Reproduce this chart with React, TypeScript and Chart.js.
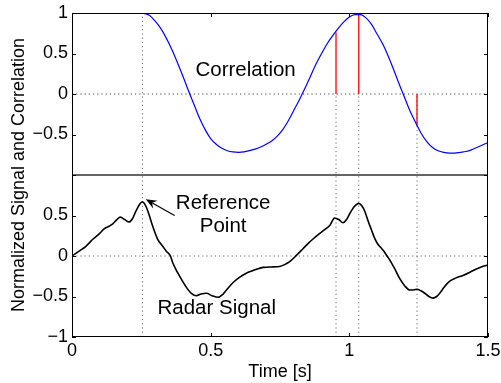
import React, { useEffect, useRef } from "react";
import { Chart, registerables } from "chart.js";

Chart.register(...registerables);

// ---- Data ----
const corrTime = [
  0.254, 0.28, 0.3, 0.32, 0.34, 0.36, 0.38, 0.4, 0.42, 0.44, 0.46, 0.48, 0.5, 0.52, 0.54, 0.56, 0.58, 0.6,
  0.62, 0.64, 0.66, 0.68, 0.7, 0.72, 0.74, 0.76, 0.78, 0.8, 0.82, 0.84, 0.86, 0.88, 0.9, 0.92, 0.94, 0.96,
  0.98, 1.0, 1.02, 1.04, 1.06, 1.08, 1.1, 1.12, 1.14, 1.16, 1.18, 1.2, 1.22, 1.24, 1.26, 1.28, 1.3, 1.32,
  1.34, 1.36, 1.38, 1.4, 1.42, 1.44, 1.46, 1.48, 1.5,
];
const corrValue = [
  1.0, 0.97, 0.9, 0.81, 0.69, 0.55, 0.39, 0.22, 0.04, -0.13, -0.3, -0.44, -0.55, -0.62, -0.67, -0.7, -0.715, -0.72,
  -0.715, -0.7, -0.68, -0.655, -0.62, -0.58, -0.52, -0.44, -0.33, -0.2, -0.07, 0.07, 0.22, 0.37, 0.5, 0.62, 0.72, 0.81,
  0.89, 0.95, 0.98, 0.98, 0.94, 0.86, 0.74, 0.62, 0.47, 0.3, 0.12, -0.05, -0.22, -0.36, -0.49, -0.59, -0.66, -0.7,
  -0.72, -0.73, -0.73, -0.72, -0.71, -0.69, -0.66, -0.63, -0.6,
];

const sigTime = [
  0.0, 0.03, 0.05, 0.076, 0.1, 0.118, 0.135, 0.148, 0.162, 0.174, 0.19, 0.206, 0.218, 0.23, 0.244, 0.254,
  0.264, 0.274, 0.286, 0.298, 0.31, 0.325, 0.34, 0.355, 0.364, 0.38, 0.4, 0.415, 0.43, 0.449, 0.465, 0.485,
  0.505, 0.527, 0.545, 0.557, 0.58, 0.605, 0.63, 0.653, 0.689, 0.72, 0.749, 0.77, 0.785, 0.81, 0.833, 0.85,
  0.869, 0.89, 0.905, 0.917, 0.93, 0.947, 0.962, 0.977, 0.99, 1.001, 1.018, 1.034, 1.045, 1.056, 1.068, 1.08,
  1.09, 1.1, 1.112, 1.122, 1.134, 1.146, 1.164, 1.182, 1.2, 1.218, 1.232, 1.244, 1.258, 1.272, 1.287, 1.302,
  1.315, 1.326, 1.343, 1.362, 1.385, 1.41, 1.435, 1.458, 1.48, 1.5,
];
const sigValue = [
  0.0, 0.07, 0.12, 0.21, 0.28, 0.34, 0.37, 0.4, 0.45, 0.48, 0.45, 0.42, 0.46, 0.55, 0.64, 0.67,
  0.63, 0.55, 0.42, 0.3, 0.2, 0.13, 0.06, 0.0, -0.09, -0.2, -0.32, -0.4, -0.46, -0.49, -0.47, -0.46,
  -0.49, -0.51, -0.47, -0.42, -0.33, -0.26, -0.21, -0.18, -0.14, -0.135, -0.13, -0.1, -0.07, 0.01, 0.09, 0.15,
  0.21, 0.27, 0.31, 0.34, 0.38, 0.47, 0.45, 0.41, 0.45, 0.52, 0.61, 0.65, 0.62, 0.55, 0.43, 0.32,
  0.23, 0.16, 0.11, 0.07, 0.01, -0.05, -0.16, -0.28, -0.37, -0.42, -0.42, -0.41, -0.43, -0.46, -0.5, -0.52,
  -0.5, -0.46, -0.38, -0.31, -0.27, -0.24, -0.2, -0.16, -0.13, -0.11,
];

const stemTime = [0.952, 1.034, 1.244];
const stemValue = [0.76, 0.975, -0.39];
const refTime = 0.254;

const xTickValues = [0, 0.5, 1, 1.5];
const xTickLabels = ["0", "0.5", "1", "1.5"];
const yTickValues = [-1, -0.5, 0, 0.5, 1, 1.5, 2, 2.5, 3];
const yTickLabels = ["\u22121", "\u22120.5", "0", "0.5", "", "\u22120.5", "0", "0.5", "1"];

const CORR_OFFSET = 2; // correlation panel sits above the signal panel on a shared axis
const FONT = "'Liberation Sans', Arial, Helvetica, sans-serif";

const overlayPlugin = {
  id: "overlay",
  afterDraw(chart: any) {
    const { ctx, chartArea, scales } = chart;
    const xs = scales.x;
    const ys = scales.y;
    const left = Math.round(chartArea.left);
    const right = Math.round(chartArea.right);
    const top = Math.round(chartArea.top);
    const bottom = Math.round(chartArea.bottom);
    ctx.save();

    // separator between panels
    const sepY = Math.round(ys.getPixelForValue(1));
    ctx.strokeStyle = "#666";
    ctx.lineWidth = 2;
    ctx.beginPath();
    ctx.moveTo(left, sepY);
    ctx.lineTo(right, sepY);
    ctx.stroke();

    // axes box
    ctx.strokeStyle = "#000";
    ctx.lineWidth = 1;
    ctx.strokeRect(left + 0.5, top + 0.5, right - left - 1, bottom - top - 1);

    // inward ticks
    const tl = 4;
    ctx.beginPath();
    yTickValues.forEach((v) => {
      const py = Math.round(ys.getPixelForValue(v)) + 0.5;
      ctx.moveTo(left, py);
      ctx.lineTo(left + tl, py);
      ctx.moveTo(right, py);
      ctx.lineTo(right - tl, py);
    });
    xTickValues.forEach((v) => {
      const px = Math.round(xs.getPixelForValue(v)) + 0.5;
      ctx.moveTo(px, bottom);
      ctx.lineTo(px, bottom - tl);
      ctx.moveTo(px, top);
      ctx.lineTo(px, top + tl);
    });
    ctx.stroke();

    // annotations
    ctx.fillStyle = "#000";
    ctx.font = `20.5px ${FONT}`;
    ctx.textAlign = "center";
    ctx.textBaseline = "middle";
    const txt = (s: string, x: number, y: number) =>
      ctx.fillText(s, xs.getPixelForValue(x), ys.getPixelForValue(y));
    txt("Correlation", 0.626, 2.29);
    txt("Reference", 0.545, 0.65);
    txt("Point", 0.545, 0.365);
    txt("Radar Signal", 0.522, -0.646);

    // arrow
    const tx = xs.getPixelForValue(0.37);
    const ty = ys.getPixelForValue(0.5);
    const hx = xs.getPixelForValue(0.266);
    const hy = ys.getPixelForValue(0.7);
    const ang = Math.atan2(hy - ty, hx - tx);
    ctx.lineWidth = 1.2;
    ctx.beginPath();
    ctx.moveTo(tx, ty);
    ctx.lineTo(hx - 6 * Math.cos(ang), hy - 6 * Math.sin(ang));
    ctx.stroke();
    const L = 11;
    const W = 4.5;
    ctx.beginPath();
    ctx.moveTo(hx, hy);
    ctx.lineTo(hx - L * Math.cos(ang) + W * Math.sin(ang), hy - L * Math.sin(ang) - W * Math.cos(ang));
    ctx.lineTo(hx - 0.65 * L * Math.cos(ang), hy - 0.65 * L * Math.sin(ang));
    ctx.lineTo(hx - L * Math.cos(ang) - W * Math.sin(ang), hy - L * Math.sin(ang) + W * Math.cos(ang));
    ctx.closePath();
    ctx.fill();

    ctx.restore();
  },
};

export default function App() {
  const ref = useRef<HTMLCanvasElement | null>(null);

  useEffect(() => {
    if (!ref.current) return;
    const dotted = {
      borderColor: "#6a6a6a",
      borderWidth: 1,
      borderDash: [1.2, 3],
      pointRadius: 0,
      tension: 0,
      order: 5,
    };
    const datasets: any[] = [];
    // horizontal zero lines
    datasets.push({ ...dotted, data: [{ x: 0, y: CORR_OFFSET }, { x: 1.5, y: CORR_OFFSET }], borderColor: "#444" });
    datasets.push({ ...dotted, data: [{ x: 0, y: 0 }, { x: 1.5, y: 0 }] });
    // vertical dotted lines
    datasets.push({ ...dotted, data: [{ x: refTime, y: -1 }, { x: refTime, y: 3 }] });
    stemTime.forEach((t) => {
      datasets.push({ ...dotted, data: [{ x: t, y: -1 }, { x: t, y: CORR_OFFSET }] });
    });
    // red stems
    stemTime.forEach((t, i) => {
      datasets.push({
        data: [{ x: t, y: CORR_OFFSET }, { x: t, y: stemValue[i] + CORR_OFFSET }],
        borderColor: "#ff0000",
        borderWidth: 1.3,
        pointRadius: 0,
        tension: 0,
        order: 3,
      });
    });
    // correlation
    datasets.push({
      data: corrTime.map((t, i) => ({ x: t, y: corrValue[i] + CORR_OFFSET })),
      borderColor: "#0000ff",
      borderWidth: 1.2,
      pointRadius: 0,
      cubicInterpolationMode: "monotone",
      order: 1,
    });
    // radar signal
    datasets.push({
      data: sigTime.map((t, i) => ({ x: t, y: sigValue[i] })),
      borderColor: "#000000",
      borderWidth: 1.6,
      pointRadius: 0,
      cubicInterpolationMode: "monotone",
      order: 1,
    });

    const zeroPad = (s: any) => {
      s.paddingTop = 0;
      s.paddingBottom = 0;
      s.paddingLeft = 0;
      s.paddingRight = 0;
    };

    const chart = new Chart(ref.current, {
      type: "line",
      data: { datasets },
      plugins: [overlayPlugin],
      options: {
        animation: false,
        responsive: false,
        devicePixelRatio: 1,
        layout: { padding: { left: 0, right: 13, top: 13, bottom: 0 } },
        plugins: { legend: { display: false }, tooltip: { enabled: false } },
        scales: {
          x: {
            type: "linear",
            min: 0,
            max: 1.5,
            grid: { display: false, drawTicks: false },
            border: { display: false },
            afterBuildTicks: (s: any) => {
              s.ticks = xTickValues.map((v) => ({ value: v }));
            },
            afterFit: (s: any) => {
              s.height = 46;
              zeroPad(s);
            },
            ticks: {
              padding: 3,
              color: "#000",
              font: { family: FONT, size: 18 },
              maxRotation: 0,
              callback: (v: any) => {
                const i = xTickValues.indexOf(Number(v));
                return i >= 0 ? xTickLabels[i] : "";
              },
            },
            title: {
              display: true,
              text: "Time [s]",
              color: "#000",
              font: { family: FONT, size: 18 },
              padding: { top: 0, bottom: 0 },
            },
          },
          y: {
            type: "linear",
            min: -1,
            max: 3,
            grid: { display: false, drawTicks: false },
            border: { display: false },
            afterBuildTicks: (s: any) => {
              s.ticks = yTickValues.map((v) => ({ value: v }));
            },
            afterFit: (s: any) => {
              s.width = 72;
              zeroPad(s);
            },
            ticks: {
              padding: 4,
              color: "#000",
              font: { family: FONT, size: 18 },
              callback: (v: any) => {
                const i = yTickValues.indexOf(Number(v));
                return i >= 0 ? yTickLabels[i] : "";
              },
            },
            title: {
              display: true,
              text: "Normalized Signal and Correlation",
              color: "#000",
              font: { family: FONT, size: 18 },
              padding: { top: 8, bottom: 0 },
            },
          },
        },
      },
    });
    return () => chart.destroy();
  }, []);

  return (
    <div style={{ position: "fixed", left: 0, top: 0, width: 501, height: 383, background: "#fff" }}>
      <canvas ref={ref} width={501} height={383} style={{ width: 501, height: 383 }} />
    </div>
  );
}
